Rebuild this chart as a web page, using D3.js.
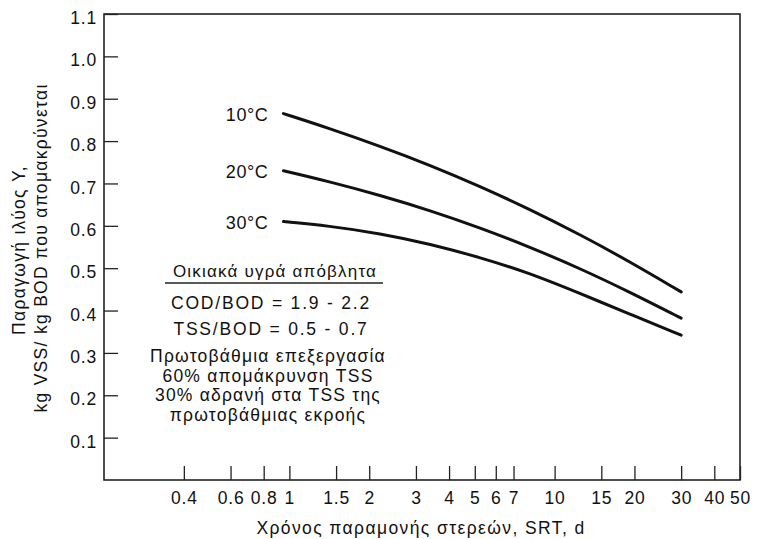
<!DOCTYPE html>
<html>
<head>
<meta charset="utf-8">
<script src="https://cdn.jsdelivr.net/npm/d3@7"></script>
<style>
  body { margin: 0; background: #fff; }
  svg text { font-family: "Liberation Sans", Arial, sans-serif; fill: #111; }
</style>
</head>
<body>
<svg id="chart" width="759" height="539"></svg>
<script>
// solids retention time, d
const srt = [0.95, 1.4, 2.2, 3.4, 5.2, 8, 12.5, 19, 30]
const y10 = [0.865, 0.831, 0.788, 0.743, 0.694, 0.64, 0.579, 0.517, 0.444]
const y20 = [0.73, 0.705, 0.672, 0.636, 0.596, 0.551, 0.499, 0.445, 0.382]
const y30 = [0.61, 0.60, 0.582, 0.557, 0.526, 0.489, 0.44, 0.393, 0.342]
const seriesNames = ['10°C', '20°C', '30°C']

const xTicks = [0.4, 0.6, 0.8, 1, 1.5, 2, 3, 4, 5, 6, 7, 10, 15, 20, 30, 40, 50]
const yTicks = [0.1, 0.2, 0.3, 0.4, 0.5, 0.6, 0.7, 0.8, 0.9, 1.0, 1.1]

const noteTitle = 'Οικιακά υγρά απόβλητα'
const noteLines = ['COD/BOD = 1.9 - 2.2', 'TSS/BOD = 0.5 - 0.7']
const noteBlock = ['Πρωτοβάθμια επεξεργασία', '60% απομάκρυνση TSS',
  '30% αδρανή στα TSS της', 'πρωτοβάθμιας εκροής']

const plotLeft = 104, plotRight = 740, plotTop = 14, plotBottom = 480

const svg = d3.select('#chart')

const x = d3.scaleLog().domain([0.2, 50]).range([plotLeft, plotRight])
const y = d3.scaleLinear().domain([0, 1.1]).range([plotBottom, plotTop])

// frame
svg.append('rect')
  .attr('x', plotLeft).attr('y', plotTop)
  .attr('width', plotRight - plotLeft).attr('height', plotBottom - plotTop)
  .attr('fill', 'none').attr('stroke', '#222').attr('stroke-width', 1.6)

// y axis: ticks point inwards
const yAxis = d3.axisRight(y)
  .tickValues(yTicks)
  .tickSize(14)
  .tickFormat(d3.format('.1f'))
const gy = svg.append('g').attr('transform', `translate(${plotLeft},0)`).call(yAxis)
gy.select('.domain').remove()
gy.selectAll('.tick line').attr('stroke', '#222').attr('stroke-width', 1.3)
gy.selectAll('.tick text')
  .attr('x', -7).attr('dy', '0.55em')
  .attr('text-anchor', 'end')
  .style('font-size', '17.5px').style('letter-spacing', '0.8px')

// x axis: ticks point upwards, labels below
const xAxis = d3.axisTop(x)
  .tickValues(xTicks)
  .tickSize(14)
  .tickFormat(d3.format('~g'))
const gx = svg.append('g').attr('transform', `translate(0,${plotBottom})`).call(xAxis)
gx.select('.domain').remove()
gx.selectAll('.tick line').attr('stroke', '#222').attr('stroke-width', 1.3)
gx.selectAll('.tick text')
  .attr('y', 24).attr('dy', 0)
  .attr('text-anchor', 'middle')
  .style('font-size', '17.5px').style('letter-spacing', '0.8px')

// curves
const line = d3.line()
  .x(d => x(d[0]))
  .y(d => y(d[1]))
  .curve(d3.curveBasis)

const series = [y10, y20, y30].map((vals, i) => ({
  name: seriesNames[i],
  points: srt.map((s, j) => [s, vals[j]])
}))

svg.selectAll('path.curve')
  .data(series)
  .join('path')
    .attr('class', 'curve')
    .attr('d', d => line(d.points))
    .attr('fill', 'none')
    .attr('stroke', '#111')
    .attr('stroke-width', 3)
    .attr('stroke-linecap', 'round')

svg.selectAll('text.temp')
  .data(series)
  .join('text')
    .attr('class', 'temp')
    .attr('x', d => x(d.points[0][0]) - 15)
    .attr('y', d => y(d.points[0][1]) + 7)
    .attr('text-anchor', 'end')
    .style('font-size', '18px')
    .style('letter-spacing', '0.6px')
    .text(d => d.name)

// note block
const noteX = 275
svg.append('text')
  .attr('x', noteX).attr('y', 277)
  .attr('text-anchor', 'middle')
  .style('font-size', '17px').style('letter-spacing', '1.2px')
  .text(noteTitle)
svg.append('line')
  .attr('x1', 165).attr('x2', 383)
  .attr('y1', 283).attr('y2', 283)
  .attr('stroke', '#222').attr('stroke-width', 1.5)

svg.selectAll('text.ratio')
  .data(noteLines)
  .join('text')
    .attr('class', 'ratio')
    .attr('x', 271)
    .attr('y', (d, i) => 309 + i * 26)
    .attr('text-anchor', 'middle')
    .style('font-size', '17.5px').style('letter-spacing', '1.8px')
    .text(d => d)

svg.selectAll('text.block')
  .data(noteBlock)
  .join('text')
    .attr('class', 'block')
    .attr('x', 268)
    .attr('y', (d, i) => 362 + i * 19.5)
    .attr('text-anchor', 'middle')
    .style('font-size', '17.5px').style('letter-spacing', '1.2px')
    .text(d => d)

// axis titles
svg.append('text')
  .attr('transform', 'translate(25,250) rotate(-90)')
  .attr('text-anchor', 'middle')
  .style('font-size', '17.5px').style('letter-spacing', '1.3px')
  .text('Παραγωγή ιλύος Y,')
svg.append('text')
  .attr('transform', 'translate(47,248) rotate(-90)')
  .attr('text-anchor', 'middle')
  .style('font-size', '17.5px').style('letter-spacing', '1.3px')
  .text('kg VSS/ kg BOD που απομακρύνεται')

svg.append('text')
  .attr('x', 421).attr('y', 534)
  .attr('text-anchor', 'middle')
  .style('font-size', '17.5px').style('letter-spacing', '1.4px')
  .text('Χρόνος παραμονής στερεών, SRT, d')
</script>
</body>
</html>
